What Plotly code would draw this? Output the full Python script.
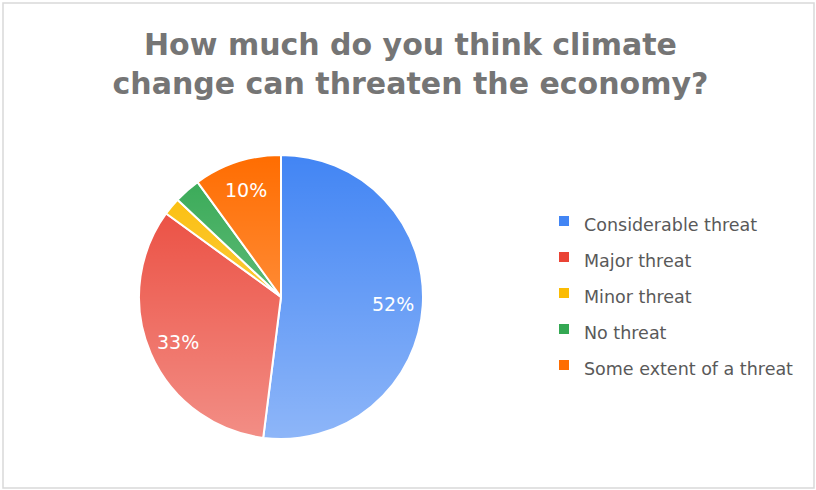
import base64
import math
import plotly.graph_objects as go

# Survey responses
categories = ["Considerable threat", "Major threat", "Minor threat", "No threat", "Some extent of a threat"]
shares = [52, 33, 2, 3, 10]
colors = ["#4285F4", "#EA4335", "#FBBC04", "#34A853", "#FF6D01"]
# slices too thin for a readable label are left blank
show_label = [True, True, False, False, True]

W, H = 816, 490
FONT = "DejaVu Sans, Verdana, sans-serif"

# pie placement in pixels (left, top, diameter)
pie_left, pie_top, pie_d = 139, 155, 284
dom_x = [pie_left / W, (pie_left + pie_d) / W]
dom_y = [1 - (pie_top + pie_d) / H, 1 - pie_top / H]

fig = go.Figure(
    go.Pie(
        labels=[f'<span style="font-size:17.5px">{c}</span>' for c in categories],
        values=shares,
        sort=False,
        direction="clockwise",
        rotation=0,
        marker=dict(colors=colors, line=dict(color="white", width=2)),
        textinfo="none",
        hovertemplate="%{label}: %{percent}<extra></extra>",
        domain=dict(x=dom_x, y=dom_y),
    )
)

# percentage labels placed on each slice's mid-angle
total = sum(shares)
cx = (dom_x[0] + dom_x[1]) / 2
cy = (dom_y[0] + dom_y[1]) / 2
r_px = pie_d / 2 * 0.79
annotations = []
cum = 0
for v, show in zip(shares, show_label):
    mid = (cum + v / 2) / total * 2 * math.pi
    cum += v
    if not show:
        continue
    annotations.append(
        dict(
            text=f"{round(v / total * 100)}%",
            x=cx + r_px * math.sin(mid) / W,
            y=cy + r_px * math.cos(mid) / H,
            xref="paper",
            yref="paper",
            showarrow=False,
            xanchor="center",
            yanchor="middle",
            font=dict(family=FONT, size=19, color="white"),
        )
    )

# soft top-to-bottom lightening across the pie face
svg = (
    '<svg xmlns="http://www.w3.org/2000/svg" width="200" height="200" viewBox="0 0 200 200">'
    '<defs><linearGradient id="g" x1="0" y1="0" x2="0" y2="1">'
    '<stop offset="0" stop-color="#ffffff" stop-opacity="0"/>'
    '<stop offset="1" stop-color="#ffffff" stop-opacity="0.4"/>'
    '</linearGradient></defs>'
    '<circle cx="100" cy="100" r="100" fill="url(#g)"/></svg>'
)
svg_uri = "data:image/svg+xml;base64," + base64.b64encode(svg.encode()).decode()

fig.update_layout(
    width=W,
    height=H,
    margin=dict(l=0, r=0, t=0, b=0),
    paper_bgcolor="white",
    plot_bgcolor="white",
    title=dict(
        text="How much do you think climate<br>change can threaten the economy?",
        x=0.503,
        xanchor="center",
        y=1 - 55 / H,
        yanchor="top",
        yref="container",
        font=dict(family=FONT, size=30, color="#757575", weight="bold"),
    ),
    legend=dict(
        x=544 / W,
        xanchor="left",
        y=1 - 198 / H,
        yanchor="top",
        font=dict(family=FONT, size=25.4, color="#595959"),
        bgcolor="rgba(0,0,0,0)",
    ),
    annotations=annotations,
    images=[
        dict(
            source=svg_uri,
            xref="paper",
            yref="paper",
            x=dom_x[0],
            y=dom_y[1],
            sizex=dom_x[1] - dom_x[0],
            sizey=dom_y[1] - dom_y[0],
            xanchor="left",
            yanchor="top",
            sizing="stretch",
            layer="above",
        )
    ],
    shapes=[
        dict(
            type="rect",
            xref="paper",
            yref="paper",
            x0=3 / W,
            x1=(W - 2) / W,
            y0=2 / H,
            y1=1 - 3 / H,
            line=dict(color="#d9d9d9", width=1.5),
            fillcolor="rgba(0,0,0,0)",
        )
    ],
)

fig.write_html("out.html")
